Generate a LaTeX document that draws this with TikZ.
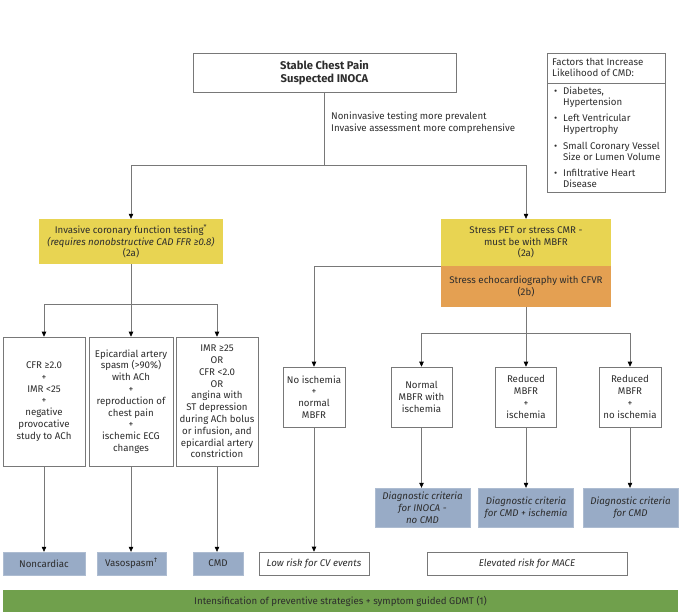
\documentclass[tikz,border=0pt]{standalone}
\usepackage{fontspec}
\setmainfont{Fira Sans}
\usetikzlibrary{arrows.meta}
\definecolor{yel}{RGB}{232,212,82}
\definecolor{ora}{RGB}{228,160,82}
\definecolor{blu}{RGB}{152,171,198}
\definecolor{grn}{RGB}{112,160,76}
\definecolor{lgray}{RGB}{120,120,120}
\definecolor{txt}{RGB}{45,45,45}
\newcommand\myfs{\fontsize{9.7}{11.8}\selectfont}
\tikzset{
  base/.style={align=center, inner sep=1pt, font=\myfs, text=txt},
  wbox/.style={base, draw=lgray, line width=0.6pt, fill=white},
  ybox/.style={base, fill=yel},
  obox/.style={base, fill=ora},
  bbox/.style={base, fill=blu, draw=blu!80!white, line width=0.4pt},
  gbox/.style={base, fill=grn},
  conn/.style={draw=lgray, line width=0.6pt},
  arr/.style={conn, -{Triangle[width=4.5pt,length=5pt,fill=black,color=black]}},
}
\begin{document}
\begin{tikzpicture}[x=1pt,y=-1pt]
\useasboundingbox (0,0) rectangle (680,615);
% top
\node[wbox, minimum width=263pt, minimum height=39pt, font=\fontsize{11.2}{12.5}\selectfont\bfseries] (top) at (324.5,72.5) {Stable Chest Pain\\Suspected INOCA};
\node[base, anchor=north west, align=left] (note) at (330,110.5) {Noninvasive testing more prevalent\\Invasive assessment more comprehensive};
% factors box
\node[draw=lgray, line width=0.6pt, minimum width=118pt, minimum height=139pt, inner sep=0pt] (fac) at (606,122.5) {};
\coordinate (facdl) at (547,83);
\coordinate (facdr) at (665,83);
\draw[conn] (facdl) -- (facdr);
\node[base, anchor=north west, align=left, font=\fontsize{9.7}{10.8}\selectfont] (fach) at (551,57) {Factors that Increase\\Likelihood of CMD:};
\node[base, anchor=north west, align=left, font=\fontsize{9.7}{11}\selectfont] (facl) at (553,85.5) {%
\makebox[9pt][l]{•}Diabetes,\\\hspace*{9pt}Hypertension\\[5.5pt]
\makebox[9pt][l]{•}Left Ventricular\\\hspace*{9pt}Hypertrophy\\[5.5pt]
\makebox[9pt][l]{•}Small Coronary Vessel\\\hspace*{9pt}Size or Lumen Volume\\[5.5pt]
\makebox[9pt][l]{•}Infiltrative Heart\\\hspace*{9pt}Disease};
% second level
\node[ybox, minimum width=184pt, minimum height=45pt] (inv) at (131,241.5) {Invasive coronary function testing\textsuperscript{*}\\\textit{(requires nonobstructive CAD FFR ≥0.8)}\\(2a)};
\node[ybox, minimum width=170pt, minimum height=47pt] (pet) at (526,242.5) {Stress PET or stress CMR -\\must be with MBFR\\(2a)};
\node[obox, minimum width=170pt, minimum height=41pt] (echo) at (526,286.5) {Stress echocardiography with CFVR\\(2b)};
% left criteria boxes
\node[wbox, minimum width=82pt, minimum height=129pt] (b1) at (44,401.5) {CFR ≥2.0\\+\\IMR <25\\+\\negative\\provocative\\study to ACh};
\node[wbox, minimum width=84pt, minimum height=129pt] (b2) at (131,401.5) {Epicardial artery\\spasm (>90\%)\\with ACh\\+\\reproduction of\\chest pain\\+\\ischemic ECG\\changes};
\node[wbox, minimum width=82pt, minimum height=129pt] (b3) at (217,401.5) {IMR ≥25\\OR\\CFR <2.0\\OR\\angina with\\ST depression\\during ACh bolus\\or infusion, and\\epicardial artery\\constriction};
% right criteria boxes
\node[wbox, minimum width=62pt, minimum height=60pt] (r0) at (314,397) {No ischemia\\+\\normal\\MBFR};
\node[wbox, minimum width=61pt, minimum height=60pt] (r1) at (421.5,397) {Normal\\MBFR with\\ischemia};
\node[wbox, minimum width=61pt, minimum height=60pt] (r2) at (526,397) {Reduced\\MBFR\\+\\ischemia};
\node[wbox, minimum width=62pt, minimum height=60pt] (r3) at (630,397) {Reduced\\MBFR\\+\\no ischemia};
% diagnostic boxes
\node[bbox, minimum width=95pt, minimum height=39pt, font=\myfs\itshape] (d1) at (422.5,507.5) {Diagnostic criteria\\for INOCA -\\no CMD};
\node[bbox, minimum width=95pt, minimum height=39pt, font=\myfs\itshape] (d2) at (526,507.5) {Diagnostic criteria\\for CMD + ischemia};
\node[bbox, minimum width=95pt, minimum height=39pt, font=\myfs\itshape] (d3) at (630.5,507.5) {Diagnostic criteria\\for CMD};
% bottom outcomes
\node[bbox, minimum width=82pt, minimum height=23pt] (nc) at (44,563.5) {Noncardiac};
\node[bbox, minimum width=69pt, minimum height=23pt] (vs) at (131.5,563.5) {Vasospasm\textsuperscript{†}};
\node[bbox, minimum width=50pt, minimum height=23pt] (cmd) at (218,563.5) {CMD};
\node[wbox, minimum width=110pt, minimum height=23pt, font=\myfs\itshape] (low) at (314,563.5) {Low risk for CV events};
\node[wbox, minimum width=200pt, minimum height=23pt, font=\myfs\itshape] (mace) at (527,563.5) {Elevated risk for MACE};
\node[gbox, minimum width=675pt, minimum height=22pt] (gdmt) at (340.5,601) {Intensification of preventive strategies + symptom guided GDMT (1)};
% connectors
\coordinate (j0) at (324.5,165);
\draw[conn] (top.south) -- (j0);
\draw[arr] (j0) -| (inv.north);
\draw[arr] (j0) -| (pet.north);
\coordinate (j1) at (131,304);
\draw[conn] (inv.south) -- (j1);
\draw[arr] (j1) -| (b1.north);
\draw[arr] (j1) -- (b2.north);
\draw[arr] (j1) -| (b3.north);
\draw[arr] (pet.south west) -| (r0.north);
\coordinate (j2) at (526,333);
\draw[conn] (echo.south) -- (j2);
\draw[arr] (j2) -| (r1.north);
\draw[arr] (j2) -- (r2.north);
\draw[arr] (j2) -| (r3.north);
\draw[arr] (b1.south) -- (nc.north);
\draw[arr] (b2.south) -- (b2.south |- vs.north);
\draw[arr] (b3.south) -- (b3.south |- cmd.north);
\draw[arr] (r0.south) -- (low.north);
\draw[arr] (r1.south) -- (r1.south |- d1.north);
\draw[arr] (r2.south) -- (d2.north);
\draw[arr] (r3.south) -- (r3.south |- d3.north);
\end{tikzpicture}
\end{document}
